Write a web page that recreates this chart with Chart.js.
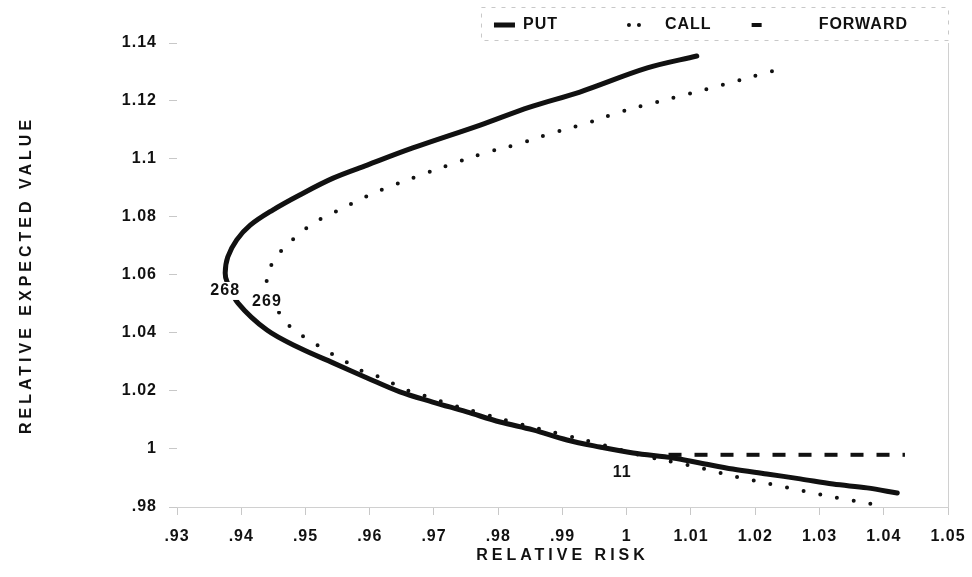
<!DOCTYPE html>
<html>
<head>
<meta charset="utf-8">
<title>Relative risk x relative expected value</title>
<script src="https://cdn.jsdelivr.net/npm/chart.js@4/dist/chart.umd.min.js"></script>
<style>
  body { margin: 0; background: #fff; }
  #caixaGrafico { width: 972px; height: 577px; position: relative; }
</style>
</head>
<body>
<div id="caixaGrafico"><canvas id="grafico"></canvas></div>
<script>
// curva PUT (linha cheia), da ponta de cima ate a ponta de baixo
var putRisco = [1.0109, 1.0032, 0.9927, 0.9849, 0.9772, 0.9667, 0.9596, 0.9543, 0.9491, 0.9449,
  0.9414, 0.9393, 0.9379, 0.9375, 0.9378, 0.9395, 0.9440, 0.9491, 0.9543, 0.9596,
  0.9647, 0.9698, 0.9751, 0.9803, 0.9854, 0.9907, 0.9958, 1.0010, 1.0072, 1.0114,
  1.0165, 1.0218, 1.0270, 1.0321, 1.0374, 1.0421];
var putValor = [1.1355, 1.1314, 1.1231, 1.1179, 1.1117, 1.1038, 1.0979, 1.0934, 1.0876, 1.0824,
  1.0772, 1.0721, 1.0662, 1.0607, 1.0576, 1.0503, 1.0410, 1.0348, 1.0297, 1.0245,
  1.0197, 1.0162, 1.0128, 1.0093, 1.0066, 1.0031, 1.0007, 0.9986, 0.9969, 0.9952,
  0.9931, 0.9914, 0.9897, 0.9879, 0.9866, 0.9848];

// curva CALL (pontilhada)
var callRisco = [1.0226, 1.0148, 1.0095, 1.0041, 0.9990, 0.9938, 0.9885, 0.9832, 0.9779, 0.9728,
  0.9675, 0.9622, 0.9596, 0.9543, 0.9515, 0.9490, 0.9465, 0.9446, 0.9440, 0.9463,
  0.9487, 0.9513, 0.9541, 0.9566, 0.9591, 0.9619, 0.9644, 0.9670, 0.9697, 0.9723,
  0.9772, 0.9834, 0.9896, 0.9958, 1.0021, 1.0094, 1.0122, 1.0173, 1.0225, 1.0276,
  1.0329, 1.0383];
var callValor = [1.1303, 1.1255, 1.1224, 1.1193, 1.1162, 1.1124, 1.1090, 1.1052, 1.1021, 1.0983,
  1.0941, 1.0897, 1.0872, 1.0814, 1.0783, 1.0741, 1.0690, 1.0631, 1.0572, 1.0455,
  1.0403, 1.0366, 1.0328, 1.0297, 1.0266, 1.0245, 1.0217, 1.0193, 1.0176, 1.0155,
  1.0124, 1.0086, 1.0052, 1.0017, 0.9979, 0.9945, 0.9931, 0.9903, 0.9879, 0.9855,
  0.9831, 0.9810];

// FORWARD (tracejada)
var forwardRisco = [1.0065, 1.0433];
var forwardValor = [0.998, 0.998];

var nomesSeries = ["PUT", "CALL", "FORWARD"];

// numeros escritos junto das curvas
var rotuloTextos = ["268", "269", "11"];
var rotuloRisco = [0.9375, 0.9440, 0.9993];
var rotuloValor = [1.0545, 1.0507, 0.9917];

var xValores = [0.93, 0.94, 0.95, 0.96, 0.97, 0.98, 0.99, 1, 1.01, 1.02, 1.03, 1.04, 1.05];
var xRotulos = [".93", ".94", ".95", ".96", ".97", ".98", ".99", "1", "1.01", "1.02", "1.03", "1.04", "1.05"];
var yValores = [0.98, 1, 1.02, 1.04, 1.06, 1.08, 1.1, 1.12, 1.14];
var yRotulos = [".98", "1", "1.02", "1.04", "1.06", "1.08", "1.1", "1.12", "1.14"];

function montarPontos(riscos, valores) {
  var pontos = [];
  for (var i = 0; i < riscos.length; i++) {
    pontos.push({ x: riscos[i], y: valores[i] });
  }
  return pontos;
}

var fonte = '"Liberation Sans", Arial, Helvetica, sans-serif';
Chart.defaults.font.family = fonte;
Chart.defaults.font.size = 16;
Chart.defaults.font.weight = "bold";
Chart.defaults.color = "#111";

// amostras da legenda: a linha vai da esquerda p/ direita, o tracejado escolhe o que aparece
var tracoLegenda = [[0, 38, 21, 100], [0, 10, 0, 100], [10, 100]];
var deslocLegenda = [0, 79, 0];
var pontaLegenda = ["butt", "round", "butt"];

var espacamento = {
  id: "espacamento",
  beforeUpdate: function (chart) {
    chart.ctx.letterSpacing = "1px";
  },
  beforeDraw: function (chart) {
    chart.ctx.letterSpacing = "1px";
    Object.values(chart.scales).forEach(function (escala) {
      if (escala._tituloOriginal) return;
      escala._tituloOriginal = escala.drawTitle;
      escala.drawTitle = function () {
        var c = this.ctx;
        var antes = c.letterSpacing;
        c.letterSpacing = "4px";
        this._tituloOriginal();
        c.letterSpacing = antes;
      };
    });
  }
};

var rotulosCurvas = {
  id: "rotulosCurvas",
  afterDatasetsDraw: function (chart) {
    var ctx = chart.ctx;
    var escX = chart.scales.x;
    var escY = chart.scales.y;
    ctx.save();
    ctx.font = "bold 16px " + fonte;
    ctx.textAlign = "center";
    ctx.textBaseline = "middle";
    for (var i = 0; i < rotuloTextos.length; i++) {
      var px = escX.getPixelForValue(rotuloRisco[i]);
      var py = escY.getPixelForValue(rotuloValor[i]);
      var larg = ctx.measureText(rotuloTextos[i]).width;
      ctx.fillStyle = "#fff";
      ctx.fillRect(px - larg / 2 - 2, py - 9, larg + 4, 18);
      ctx.fillStyle = "#111";
      ctx.fillText(rotuloTextos[i], px, py);
    }
    ctx.restore();
  },
  afterDraw: function (chart) {
    // moldura clarinha da legenda
    var ctx = chart.ctx;
    var caixas = chart.legend.legendHitBoxes;
    if (!caixas || !caixas.length) return;
    var esq = caixas[0].left + 25;
    var dir = chart.chartArea.right;
    var meio = caixas[0].top + caixas[0].height / 2;
    ctx.save();
    ctx.strokeStyle = "#c8c8c8";
    ctx.lineWidth = 1;
    ctx.setLineDash([4, 6]);
    ctx.strokeRect(esq + 0.5, meio - 17.5, dir - esq, 33);
    ctx.restore();
  }
};

var contexto = grafico.getContext("2d");
new Chart(contexto, {
  type: "line",
  data: {
    datasets: [
      {
        label: nomesSeries[0],
        data: montarPontos(putRisco, putValor),
        borderColor: "#111",
        backgroundColor: "#111",
        borderWidth: 5,
        borderCapStyle: "round",
        borderJoinStyle: "round",
        tension: 0.35,
        pointRadius: 0,
        fill: false
      },
      {
        label: nomesSeries[1],
        data: montarPontos(callRisco, callValor),
        borderColor: "#111",
        backgroundColor: "#111",
        borderWidth: 4,
        borderDash: [0, 17],
        borderCapStyle: "round",
        tension: 0.35,
        pointRadius: 0,
        fill: false
      },
      {
        label: nomesSeries[2],
        data: montarPontos(forwardRisco, forwardValor),
        borderColor: "#111",
        backgroundColor: "#111",
        borderWidth: 4,
        borderDash: [13, 13],
        borderCapStyle: "butt",
        pointRadius: 0,
        fill: false
      }
    ]
  },
  options: {
    responsive: true,
    maintainAspectRatio: false,
    animation: false,
    events: [],
    layout: { padding: { top: -23, right: 24, bottom: 0, left: 0 } },
    plugins: {
      tooltip: { enabled: false },
      legend: {
        position: "top",
        align: "end",
        maxHeight: 80,
        labels: {
          usePointStyle: true,
          pointStyle: "line",
          pointStyleWidth: 59,
          padding: 40,
          color: "#111",
          font: { size: 16, weight: "bold" },
          generateLabels: function (chart) {
            var itens = Chart.defaults.plugins.legend.labels.generateLabels(chart);
            itens.forEach(function (item, i) {
              item.lineDash = tracoLegenda[i];
              item.lineDashOffset = deslocLegenda[i];
              item.lineCap = pontaLegenda[i];
              item.lineWidth = chart.data.datasets[i].borderWidth;
            });
            return itens;
          }
        }
      }
    },
    scales: {
      x: {
        type: "linear",
        min: 0.93,
        max: 1.05,
        afterBuildTicks: function (escala) {
          escala.ticks = xValores.map(function (v) { return { value: v }; });
        },
        afterFit: function (escala) {
          escala.height = 70;
          escala.paddingLeft = 0;
          escala.paddingRight = 0;
        },
        ticks: {
          autoSkip: false,
          maxRotation: 0,
          padding: 12,
          color: "#111",
          font: { size: 16, weight: "bold" },
          callback: function (valor, indice) { return xRotulos[indice]; }
        },
        grid: { drawOnChartArea: false, drawTicks: true, tickLength: 8, color: "#c8c8c8" },
        border: { display: true, color: "#d0d0d0", dash: [2, 8] },
        title: {
          display: true,
          text: "RELATIVE RISK",
          color: "#111",
          font: { size: 16, weight: "bold" },
          padding: { top: 0, bottom: 12 }
        }
      },
      y: {
        type: "linear",
        min: 0.98,
        max: 1.14,
        afterBuildTicks: function (escala) {
          escala.ticks = yValores.map(function (v) { return { value: v }; });
        },
        afterFit: function (escala) { escala.width = 177; },
        ticks: {
          padding: 12,
          color: "#111",
          font: { size: 16, weight: "bold" },
          callback: function (valor, indice) { return yRotulos[indice]; }
        },
        grid: { drawOnChartArea: false, drawTicks: true, tickLength: 8, color: "#c8c8c8" },
        border: { display: false },
        title: {
          display: true,
          text: "RELATIVE EXPECTED VALUE",
          color: "#111",
          font: { size: 16, weight: "bold" },
          padding: { top: 17, bottom: 0 }
        }
      },
      y2: {
        type: "linear",
        position: "right",
        display: true,
        afterFit: function (escala) { escala.width = 0; },
        ticks: { display: false },
        grid: { display: false, drawTicks: false },
        border: { display: true, color: "#d0d0d0", dash: [2, 10] }
      }
    }
  },
  plugins: [espacamento, rotulosCurvas]
});
</script>
</body>
</html>
